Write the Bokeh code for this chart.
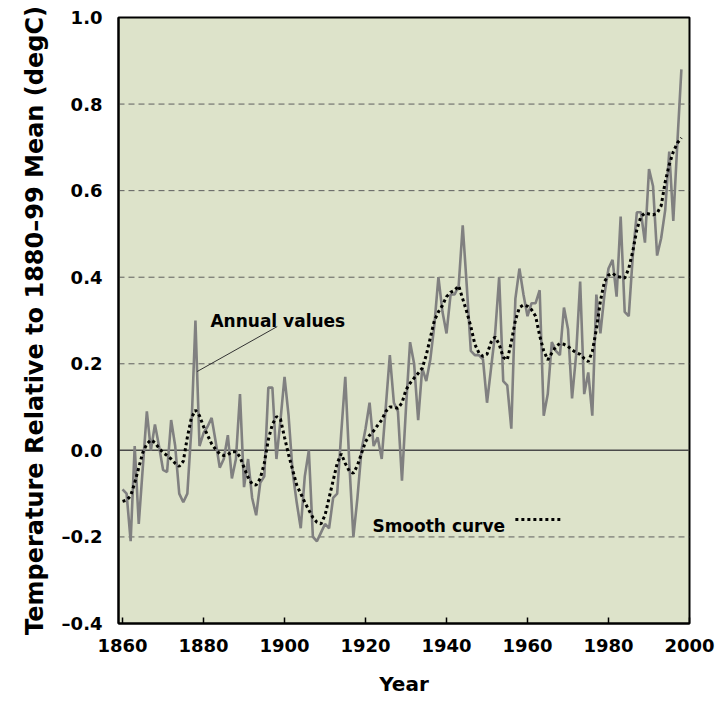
from bokeh.plotting import figure
from bokeh.models import FixedTicker, CustomJSTickFormatter, Span, Range1d, Label
from bokeh.core.properties import value
from bokeh.embed import file_html
from bokeh.resources import INLINE

# ---- data ----
years = list(range(1860, 1999))
annual = [
    -0.09, -0.10, -0.21, 0.01, -0.17, -0.04, 0.09, 0.00, 0.06, 0.01,      # 1860-1869
    -0.045, -0.05, 0.07, 0.01, -0.10, -0.12, -0.10, 0.05, 0.30, 0.01,     # 1870-1879
    0.04, 0.055, 0.075, 0.02, -0.04, -0.02, 0.035, -0.065, -0.02, 0.13,   # 1880-1889
    -0.085, -0.02, -0.11, -0.15, -0.075, -0.06, 0.145, 0.145, -0.02, 0.07,  # 1890-1899
    0.17, 0.08, -0.05, -0.12, -0.18, -0.06, 0.00, -0.20, -0.21, -0.19,    # 1900-1909
    -0.17, -0.18, -0.11, -0.10, 0.04, 0.17, -0.03, -0.20, -0.11, 0.00,    # 1910-1919
    0.05, 0.11, 0.01, 0.03, -0.02, 0.10, 0.22, 0.11, 0.09, -0.07,         # 1920-1929
    0.10, 0.25, 0.20, 0.07, 0.19, 0.16, 0.21, 0.29, 0.40, 0.32,           # 1930-1939
    0.27, 0.36, 0.36, 0.38, 0.52, 0.38, 0.23, 0.22, 0.22, 0.21,           # 1940-1949
    0.11, 0.19, 0.27, 0.40, 0.16, 0.15, 0.05, 0.35, 0.42, 0.36,           # 1950-1959
    0.31, 0.34, 0.34, 0.37, 0.08, 0.13, 0.25, 0.23, 0.22, 0.33,           # 1960-1969
    0.28, 0.12, 0.22, 0.39, 0.13, 0.18, 0.08, 0.36, 0.27, 0.36,           # 1970-1979
    0.42, 0.44, 0.355, 0.54, 0.32, 0.31, 0.45, 0.55, 0.55, 0.48,          # 1980-1989
    0.65, 0.61, 0.45, 0.49, 0.555, 0.69, 0.53, 0.71, 0.88,                # 1990-1998
]
smooth = [
    -0.118, -0.115, -0.105, -0.075, -0.04, -0.005, 0.015, 0.024, 0.018, 0.005,   # 1860s
    -0.005, -0.012, -0.02, -0.03, -0.037, -0.025, 0.03, 0.075, 0.093, 0.08,      # 1870s
    0.055, 0.035, 0.015, 0.002, -0.008, -0.012, -0.01, -0.003, -0.003, -0.015,   # 1880s
    -0.04, -0.062, -0.078, -0.08, -0.065, -0.03, 0.025, 0.06, 0.078, 0.072,      # 1890s
    0.03, -0.01, -0.045, -0.08, -0.10, -0.12, -0.138, -0.155, -0.166, -0.17,     # 1900s
    -0.15, -0.11, -0.07, -0.03, -0.008, -0.03, -0.048, -0.053, -0.035, -0.007,   # 1910s
    0.02, 0.035, 0.045, 0.058, 0.07, 0.09, 0.10, 0.10, 0.097, 0.11,              # 1920s
    0.14, 0.155, 0.167, 0.178, 0.19, 0.22, 0.26, 0.30, 0.32, 0.335,              # 1930s
    0.355, 0.365, 0.37, 0.38, 0.35, 0.32, 0.286, 0.245, 0.225, 0.217,            # 1940s
    0.222, 0.25, 0.262, 0.245, 0.215, 0.209, 0.25, 0.30, 0.33, 0.336,            # 1950s
    0.333, 0.325, 0.31, 0.265, 0.23, 0.209, 0.225, 0.24, 0.247, 0.245,           # 1960s
    0.24, 0.232, 0.226, 0.222, 0.212, 0.205, 0.228, 0.28, 0.345, 0.39,           # 1970s
    0.405, 0.409, 0.402, 0.40, 0.398, 0.42, 0.46, 0.51, 0.54, 0.548,             # 1980s
    0.546, 0.544, 0.548, 0.565, 0.62, 0.66, 0.69, 0.71, 0.722,                   # 1990s
]
x_ticks = [1860, 1880, 1900, 1920, 1940, 1960, 1980, 2000]
y_ticks = [-0.4, -0.2, 0.0, 0.2, 0.4, 0.6, 0.8, 1.0]
dashed_levels = [-0.2, 0.2, 0.4, 0.6, 0.8]
zero_level = 0.0

FONT = "DejaVu Sans"

p = figure(width=719, height=701,
           x_range=Range1d(1859, 2000), y_range=Range1d(-0.4, 1.0),
           output_backend="svg", toolbar_location=None,
           min_border_left=118, min_border_right=30,
           min_border_top=17, min_border_bottom=78)

p.background_fill_color = "#dde3ca"
p.border_fill_color = "white"
p.outline_line_color = "black"
p.outline_line_width = 2
p.grid.visible = False

for lvl in dashed_levels:
    p.add_layout(Span(location=lvl, dimension="width", line_color="#5e5e5e",
                      line_dash="6 4", line_width=1, level="underlay"))
p.add_layout(Span(location=zero_level, dimension="width", line_color="#4a4a4a",
                  line_width=1.5, level="underlay"))

p.line(years, annual, line_color="#808080", line_width=2.6)
p.line(years, smooth, line_color="black", line_width=3, line_dash="3 3")

# axes
p.xaxis.ticker = FixedTicker(ticks=x_ticks)
p.yaxis.ticker = FixedTicker(ticks=y_ticks)
p.yaxis.formatter = CustomJSTickFormatter(code="return tick.toFixed(1).replace('-', '\u2013');")
p.xaxis.major_tick_in = 6
p.xaxis.major_tick_out = 0
p.xaxis.major_tick_line_color = "black"
p.xaxis.major_tick_line_width = 1.5
p.yaxis.major_tick_in = 0
p.yaxis.major_tick_out = 0
for ax in (p.xaxis, p.yaxis):
    ax.minor_tick_line_color = None
    ax.axis_line_color = "black"
    ax.axis_line_width = 2
    ax.major_label_text_font = FONT
    ax.major_label_text_font_style = "bold"
    ax.major_label_text_font_size = "18px"
    ax.major_label_text_color = "black"
    ax.axis_label_text_font = FONT
    ax.axis_label_text_font_style = "bold"
    ax.axis_label_text_color = "black"

p.xaxis.major_label_standoff = 15
p.yaxis.major_label_standoff = 16
p.xaxis.axis_label = "Year"
p.xaxis.axis_label_text_font_size = "20px"
p.xaxis.axis_label_standoff = 17
p.yaxis.axis_label = "Temperature Relative to 1880\u201399 Mean (degC)"
p.yaxis.axis_label_text_font_size = "24px"
p.yaxis.axis_label_standoff = 10

# annotations
p.add_layout(Label(x=1881.7, y=0.30, text="Annual values", text_font=FONT,
                   text_font_style="bold", text_font_size="17px",
                   text_baseline="alphabetic", text_color="black"))
p.segment(x0=[1878.4], y0=[0.182], x1=[1898.2], y1=[0.286],
          line_color="#333333", line_width=1)
p.add_layout(Label(x=1921.7, y=-0.174, text="Smooth curve", text_font=FONT,
                   text_font_style="bold", text_font_size="17px",
                   text_baseline="alphabetic", text_color="black"))
p.segment(x0=[1957.0], y0=[-0.16], x1=[1968.1], y1=[-0.16],
          line_color="black", line_width=3, line_dash="3 3")

open("out.html", "w").write(file_html(p, INLINE))
